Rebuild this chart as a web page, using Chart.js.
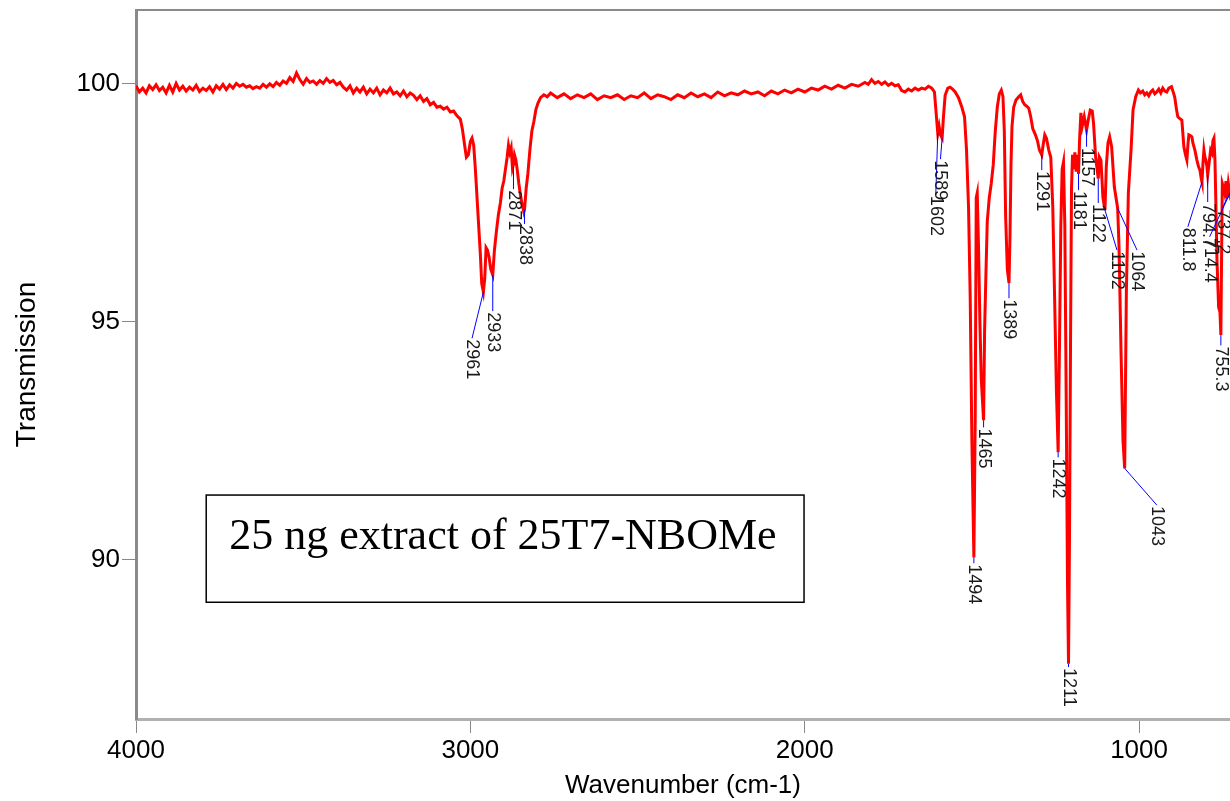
<!DOCTYPE html>
<html>
<head>
<meta charset="utf-8">
<script src="https://cdn.jsdelivr.net/npm/chart.js@4.4.1/dist/chart.umd.min.js"></script>
<style>
  html, body { margin: 0; padding: 0; background: #fff; }
  #wrap { width: 1230px; height: 801px; position: relative; }
</style>
</head>
<body>
<div id="wrap"><canvas id="irChart"></canvas></div>
<script>
// wavenumber (cm-1) and transmission
var wavenumber = [
  4000, 3990, 3980, 3970, 3960, 3950, 3940, 3930, 3920, 3910, 3900, 3890, 3880, 3870, 3860, 3850,
  3840, 3830, 3820, 3810, 3800, 3790, 3780, 3770, 3760, 3750, 3740, 3730, 3720, 3710, 3700, 3690,
  3680, 3670, 3660, 3650, 3640, 3630, 3620, 3610, 3600, 3590, 3580, 3570, 3560, 3550, 3540, 3530,
  3520, 3510, 3500, 3490, 3480, 3470, 3460, 3450, 3440, 3430, 3420, 3410, 3400, 3390, 3380, 3370,
  3360, 3350, 3340, 3330, 3320, 3310, 3300, 3290, 3280, 3270, 3260, 3250, 3240, 3230, 3220, 3210,
  3200, 3190, 3180, 3170, 3160, 3150, 3140, 3130, 3120, 3110, 3100, 3090, 3080, 3070, 3060, 3050,
  3040, 3030, 3024, 3018, 3012, 3006, 3000, 2995, 2990, 2985, 2980, 2975, 2970, 2966, 2961, 2957,
  2953, 2949, 2944, 2939, 2933, 2928, 2922, 2916, 2910, 2905, 2900, 2895, 2890, 2886, 2882, 2878,
  2874, 2871, 2868, 2864, 2860, 2855, 2850, 2845, 2840, 2838, 2833, 2828, 2822, 2816, 2810, 2804,
  2798, 2790, 2780, 2770, 2760, 2740, 2720, 2700, 2680, 2660, 2640, 2620, 2600, 2580, 2560, 2540,
  2520, 2500, 2480, 2460, 2440, 2420, 2400, 2380, 2360, 2340, 2320, 2300, 2280, 2260, 2240, 2220,
  2200, 2180, 2160, 2140, 2120, 2100, 2080, 2060, 2040, 2020, 2000, 1980, 1960, 1940, 1920, 1900,
  1880, 1860, 1840, 1820, 1810, 1800, 1790, 1780, 1770, 1760, 1750, 1740, 1730, 1720, 1710, 1700,
  1690, 1680, 1670, 1660, 1650, 1640, 1630, 1620, 1612, 1606, 1602, 1598, 1594, 1589, 1585, 1580,
  1572, 1565, 1558, 1550, 1540, 1530, 1522, 1516, 1510, 1505, 1500, 1494, 1490, 1487, 1484, 1480,
  1476, 1472, 1465, 1462, 1458, 1454, 1448, 1442, 1436, 1430, 1424, 1418, 1412, 1407, 1403, 1399,
  1394, 1389, 1386, 1383, 1380, 1375, 1368, 1360, 1354, 1348, 1342, 1336, 1330, 1324, 1318, 1310,
  1304, 1298, 1291, 1287, 1282, 1277, 1270, 1264, 1258, 1252, 1247, 1242, 1238, 1234, 1230, 1226,
  1222, 1218, 1214, 1211, 1208, 1205, 1202, 1199, 1196, 1192, 1188, 1184, 1181, 1178, 1174, 1170,
  1164, 1157, 1152, 1146, 1140, 1136, 1130, 1122, 1119, 1114, 1108, 1102, 1098, 1093, 1088, 1082,
  1074, 1064, 1060, 1054, 1048, 1043, 1038, 1032, 1024, 1018, 1010, 1002, 996, 989, 983, 977,
  971, 965, 959, 953, 947, 941, 935, 929, 923, 917, 911, 903, 897, 893, 888, 884,
  878, 872, 869, 866, 861, 857, 854, 851, 846, 842, 839, 833, 827, 822, 818, 814,
  811.8, 809, 806, 803, 800, 797, 794.7, 791, 786, 782, 779, 776, 773, 770, 767, 762,
  758, 755.3, 753, 751, 748, 744, 740, 737.2, 733, 729, 724, 718, 714.4, 708
];
var transmission = [
  99.95, 99.82, 99.90, 99.80, 99.95, 99.87, 99.97, 99.85, 99.92, 99.80, 99.96, 99.82, 100.00, 99.86, 99.94, 99.84,
  99.92, 99.86, 99.96, 99.83, 99.90, 99.85, 99.93, 99.82, 99.95, 99.88, 99.98, 99.87, 99.97, 99.90, 100.00, 99.94,
  99.98, 99.92, 99.95, 99.89, 99.93, 99.90, 99.98, 99.92, 99.99, 99.93, 100.02, 99.96, 100.05, 100.00, 100.12, 100.04,
  100.22, 100.08, 99.98, 100.10, 100.02, 100.05, 99.98, 100.06, 100.00, 100.10, 100.02, 100.06, 99.97, 100.02, 99.92, 99.86,
  99.95, 99.80, 99.90, 99.82, 99.92, 99.78, 99.88, 99.80, 99.90, 99.76, 99.86, 99.80, 99.90, 99.78, 99.82, 99.74,
  99.84, 99.72, 99.80, 99.75, 99.66, 99.74, 99.62, 99.68, 99.55, 99.60, 99.50, 99.52, 99.46, 99.50, 99.40, 99.42,
  99.32, 99.25, 99.05, 98.75, 98.45, 98.50, 98.78, 98.85, 98.70, 98.20, 97.60, 97.00, 96.40, 95.80, 95.62, 95.90,
  96.55, 96.50, 96.35, 96.10, 95.98, 96.50, 96.90, 97.25, 97.50, 97.80, 97.95, 98.20, 98.45, 98.70, 98.55, 98.65,
  98.22, 98.30, 98.50, 98.40, 98.20, 97.90, 97.65, 97.45, 97.30, 97.35, 97.80, 98.10, 98.60, 99.00, 99.20, 99.45,
  99.58, 99.70, 99.76, 99.72, 99.80, 99.70, 99.78, 99.68, 99.76, 99.70, 99.78, 99.66, 99.74, 99.70, 99.76, 99.66,
  99.74, 99.70, 99.80, 99.68, 99.76, 99.72, 99.66, 99.76, 99.70, 99.80, 99.72, 99.78, 99.70, 99.82, 99.74, 99.80,
  99.76, 99.84, 99.78, 99.82, 99.74, 99.84, 99.78, 99.86, 99.80, 99.88, 99.82, 99.90, 99.86, 99.94, 99.88, 99.96,
  99.90, 99.98, 99.94, 100.02, 99.98, 100.08, 100.00, 100.04, 99.98, 100.03, 99.96, 100.00, 99.95, 99.97, 99.85, 99.82,
  99.88, 99.84, 99.90, 99.86, 99.90, 99.88, 99.94, 99.90, 99.82, 99.30, 98.95, 99.10, 98.92, 98.85, 99.30, 99.75,
  99.90, 99.92, 99.88, 99.82, 99.70, 99.50, 99.30, 98.60, 97.40, 95.50, 92.50, 90.05, 93.00, 97.60, 97.70, 96.50,
  95.00, 93.80, 92.93, 94.80, 96.00, 97.10, 97.60, 97.90, 98.30, 99.00, 99.50, 99.78, 99.86, 99.72, 99.00, 97.20,
  96.10, 95.81, 96.80, 98.30, 99.10, 99.50, 99.65, 99.72, 99.76, 99.62, 99.55, 99.52, 99.48, 99.30, 99.05, 98.92,
  98.80, 98.60, 98.50, 98.70, 98.92, 98.85, 98.60, 98.45, 97.40, 95.30, 93.50, 92.26, 94.50, 97.00, 98.20, 98.35,
  97.00, 93.50, 89.50, 87.82, 90.50, 94.50, 97.80, 98.50, 98.20, 98.55, 98.15, 98.50, 98.10, 98.80, 99.38, 99.10,
  99.30, 99.02, 99.23, 99.44, 99.42, 99.15, 98.46, 98.00, 98.46, 98.39, 97.60, 97.34, 98.25, 98.75, 98.88, 98.67,
  97.83, 97.38, 96.60, 94.40, 92.50, 91.92, 95.60, 97.70, 98.60, 99.44, 99.72, 99.86, 99.80, 99.84, 99.76, 99.80,
  99.74, 99.82, 99.86, 99.78, 99.82, 99.88, 99.80, 99.90, 99.84, 99.82, 99.90, 99.93, 99.80, 99.70, 99.45, 99.30,
  99.26, 99.23, 98.95, 98.67, 98.50, 98.39, 98.70, 98.92, 98.90, 98.88, 98.75, 98.60, 98.39, 98.25, 98.18, 98.00,
  97.93, 98.30, 98.60, 98.45, 98.39, 98.25, 98.08, 98.30, 98.60, 98.54, 98.80, 98.85, 98.39, 97.40, 96.30, 95.30,
  95.20, 94.72, 96.50, 97.90, 97.83, 97.70, 97.95, 97.60, 97.90, 97.70, 97.85, 97.50, 97.90, 97.80
];

// axis ranges and ticks
var xMin = 728, xMax = 4000;
var yMin = 86.66, yMax = 101.54;
var xTicks = [4000, 3000, 2000, 1000];
var yTicks = [90, 95, 100];

// peak labels: text, peak position, label start
var peakText  = ["2961", "2933", "2871", "2838", "1602", "1589", "1494", "1465", "1389", "1291", "1242", "1211",
                 "1181", "1157", "1122", "1102", "1064", "1043", "811.8", "794.7", "714.4", "755.3", "737.2"];
var peakWn    = [2961, 2933, 2871, 2838, 1602, 1589, 1494, 1465, 1389, 1291, 1242, 1211,
                 1181, 1157, 1122, 1102, 1064, 1043, 811.8, 794.7, 714.4, 755.3, 737.2];
var peakT     = [95.62, 95.98, 98.25, 97.35, 98.95, 98.85, 90.05, 92.93, 95.81, 98.5, 92.26, 87.82,
                 98.1, 99.02, 98.0, 97.34, 97.38, 91.92, 97.93, 98.08, 97.9, 94.72, 97.6];
var labelWn   = [2995, 2933, 2871, 2838, 1608, 1594, 1494, 1465, 1389, 1291, 1242, 1211,
                 1181, 1157, 1122, 1066, 1006, 947, 854, 794.7, 789, 755.3, 750];
var labelT    = [94.65, 95.22, 97.78, 97.05, 97.66, 98.41, 89.93, 92.78, 95.49, 98.18, 92.15, 87.75,
                 97.76, 98.67, 97.49, 96.5, 96.5, 91.15, 96.99, 97.51, 96.78, 94.5, 97.38];

var boxText = "25 ng extract of 25T7-NBOMe";

var points = wavenumber.map(function (w, i) { return { x: w, y: transmission[i] }; });

var peakLabels = {
  id: 'peakLabels',
  afterDatasetsDraw: function (chart) {
    var ctx = chart.ctx, xs = chart.scales.x, ys = chart.scales.y, a = chart.chartArea;
    ctx.save();
    // top frame line
    ctx.strokeStyle = '#8a8a8a';
    ctx.lineWidth = 2;
    ctx.beginPath();
    ctx.moveTo(a.left, a.top);
    ctx.lineTo(a.right, a.top);
    ctx.stroke();

    ctx.lineWidth = 1;
    ctx.strokeStyle = '#0000ff';
    ctx.fillStyle = '#1a1a1a';
    ctx.font = '18px "Liberation Sans", Arial, sans-serif';
    ctx.textAlign = 'left';
    ctx.textBaseline = 'middle';
    for (var i = 0; i < peakText.length; i++) {
      var px = xs.getPixelForValue(peakWn[i]), py = ys.getPixelForValue(peakT[i]);
      var lx = xs.getPixelForValue(labelWn[i]), ly = ys.getPixelForValue(labelT[i]);
      ctx.beginPath();
      ctx.moveTo(px, py);
      ctx.lineTo(lx, ly);
      ctx.stroke();
      ctx.save();
      ctx.translate(lx, ly);
      ctx.rotate(Math.PI / 2);
      ctx.fillText(peakText[i], 1, 0);
      ctx.restore();
    }

    // annotation box
    var bx0 = xs.getPixelForValue(3790), bx1 = xs.getPixelForValue(2002);
    var by0 = ys.getPixelForValue(91.36), by1 = ys.getPixelForValue(89.11);
    ctx.fillStyle = '#fff';
    ctx.fillRect(bx0, by0, bx1 - bx0, by1 - by0);
    ctx.strokeStyle = '#000';
    ctx.lineWidth = 1.5;
    ctx.strokeRect(bx0, by0, bx1 - bx0, by1 - by0);
    ctx.fillStyle = '#000';
    ctx.font = '44px "Liberation Serif", serif';
    ctx.textBaseline = 'alphabetic';
    ctx.fillText(boxText, bx0 + 23, by0 + 54);
    ctx.restore();
  }
};

var ctx = document.getElementById('irChart').getContext('2d');
new Chart(ctx, {
  type: 'line',
  data: {
    datasets: [{
      data: points,
      borderColor: '#ff0000',
      borderWidth: 3,
      pointRadius: 0,
      tension: 0,
      fill: false
    }]
  },
  options: {
    responsive: true,
    maintainAspectRatio: false,
    animation: false,
    layout: { padding: { top: 10, right: 0, left: 0, bottom: 0 } },
    plugins: { legend: { display: false }, tooltip: { enabled: false } },
    scales: {
      x: {
        type: 'linear',
        reverse: true,
        min: xMin,
        max: xMax,
        afterBuildTicks: function (axis) { axis.ticks = xTicks.map(function (v) { return { value: v }; }); },
        afterFit: function (axis) { axis.height = 82; axis.paddingRight = 0; },
        border: { display: true, color: '#b0b0b0', width: 3 },
        grid: { drawOnChartArea: false, drawTicks: true, tickLength: 14, color: '#888' },
        ticks: {
          color: '#000',
          padding: 2,
          maxRotation: 0,
          autoSkip: false,
          font: { family: '"Liberation Sans", Arial, sans-serif', size: 26 },
          callback: function (v) { return v; }
        },
        title: {
          display: true,
          text: 'Wavenumber (cm-1)',
          color: '#000',
          padding: { top: 0, bottom: 0 },
          font: { family: '"Liberation Sans", Arial, sans-serif', size: 26 }
        }
      },
      y: {
        type: 'linear',
        min: yMin,
        max: yMax,
        afterBuildTicks: function (axis) { axis.ticks = yTicks.map(function (v) { return { value: v }; }); },
        afterFit: function (axis) { axis.width = 136; axis.paddingTop = 0; axis.paddingBottom = 0; },
        border: { display: true, color: '#8a8a8a', width: 3 },
        grid: { drawOnChartArea: false, drawTicks: true, tickLength: 14, color: '#888' },
        ticks: {
          color: '#000',
          padding: 2,
          font: { family: '"Liberation Sans", Arial, sans-serif', size: 26 }
        },
        title: {
          display: true,
          text: 'Transmission',
          color: '#000',
          padding: { top: 10, bottom: 0 },
          font: { family: '"Liberation Sans", Arial, sans-serif', size: 28 }
        }
      }
    }
  },
  plugins: [peakLabels]
});
</script>
</body>
</html>
